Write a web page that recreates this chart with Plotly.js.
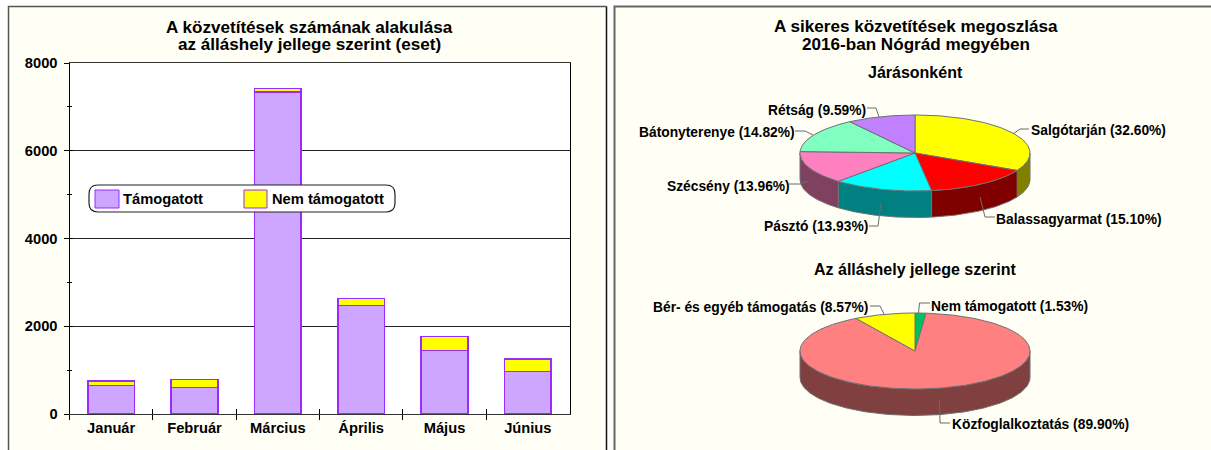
<!DOCTYPE html>
<html><head><meta charset="utf-8">
<script src="https://cdn.plot.ly/plotly-3.0.1.min.js"></script>
<style>html,body{margin:0;padding:0;background:#fff}#c{width:1211px;height:450px}</style>
</head><body><div id="c"></div>
<script>
// ---- data ----
const months = ['Január','Február','Március','Április','Május','Június'];
const supported = [654, 600, 7337, 2476, 1451, 965];
const unsupportedVals = [98, 182, 83, 152, 319, 288];
const yTicks = [0, 2000, 4000, 6000, 8000];

const districtLabels = ['Salgótarján','Balassagyarmat','Pásztó','Szécsény','Bátonyterenye','Rétság'];
const districtValues = [32.60, 15.10, 13.93, 13.96, 14.82, 9.59];
const districtColors = ['#FFFF00','#FF0000','#00FFFF','#FF80C0','#80FFC0','#C080FF'];
const districtSides  = ['#808000','#800000','#008080','#804060','#408060','#604080'];

const jobLabels = ['Nem támogatott','Közfoglalkoztatás','Bér- és egyéb támogatás'];
const jobValues = [1.53, 89.90, 8.57];
const jobColors = ['#00C060','#FF8080','#FFFF00'];
const jobSides  = ['#006030','#804040','#808000'];

// ---- layout helpers ----
const W = 1211, H = 450;
const FONT = 'Liberation Sans, Arial, sans-serif';
const px = x => x / W, py = y => 1 - y / H;
const PIE = {a: 115, b: 38, depth: 26.5};

function arc(t0, t1, y0) {
  const n = Math.max(2, Math.ceil(t1 - t0)), xs = [], ys = [];
  for (let i = 0; i <= n; i++) {
    const t = (t0 + (t1 - t0) * i / n) * Math.PI / 180;
    xs.push(Math.sin(t)); ys.push(Math.cos(t) + y0);
  }
  return {xs, ys};
}
function pieTraces(values, colors, sides, xa, ya, name) {
  const tops = [], walls = [];
  let acc = 0;
  const d = -PIE.depth / PIE.b;
  values.forEach((v, i) => {
    const t0 = acc * 3.6, t1 = (acc + v) * 3.6;
    acc += v;
    const lineStyle = {color: '#707070', width: 1};
    const c0 = Math.max(t0, 90), c1 = Math.min(t1, 270);
    if (c1 > c0) {
      const up = arc(c0, c1, 0), lo = arc(c0, c1, d);
      walls.push({type:'scatter', mode:'lines', fill:'toself', xaxis:xa, yaxis:ya,
        x: up.xs.concat(lo.xs.reverse(), [up.xs[0]]),
        y: up.ys.concat(lo.ys.reverse(), [up.ys[0]]),
        fillcolor: sides[i], line: lineStyle, hoverinfo:'skip', cliponaxis:false, showlegend:false});
    }
    const a = arc(t0, t1, 0);
    tops.push({type:'scatter', mode:'lines', fill:'toself', xaxis:xa, yaxis:ya,
      x: [0].concat(a.xs, [0]), y: [0].concat(a.ys, [0]),
      fillcolor: colors[i], line: lineStyle, name: name[i], hoverinfo:'name', cliponaxis:false, showlegend:false});
  });
  return walls.concat(tops);
}
function pieAxes(cx, cy, top, bottom) {
  const L = 616, R = 1210;
  return {
    x: {domain:[px(L), px(R)], range:[(L-cx)/PIE.a, (R-cx)/PIE.a], visible:false, fixedrange:true},
    y: {domain:[py(bottom), py(top)], range:[(cy-bottom)/PIE.b, (cy-top)/PIE.b], visible:false, fixedrange:true}
  };
}
const axA = pieAxes(915, 153, 100, 240), axB = pieAxes(915, 351, 300, 440);

const barLine = {color:'#9A2BFF', width:1.5};
const traces = [
  {type:'bar', x:months, y:supported, name:'Támogatott', marker:{color:'#CFA6FF', line:barLine}, width:0.56},
  {type:'bar', x:months, y:unsupportedVals, name:'Nem támogatott', marker:{color:'#FFFF00', line:barLine}, width:0.56},
  {type:'scatter', mode:'none', x:months, y:months.map(()=>0), xaxis:'x4', yaxis:'y4', hoverinfo:'skip', showlegend:false},
  ...pieTraces(districtValues, districtColors, districtSides, 'x2', 'y2', districtLabels),
  ...pieTraces(jobValues, jobColors, jobSides, 'x3', 'y3', jobLabels)
];

// ---- text ----
function txt(s, x, y, size, anchor) {
  const off = anchor === 'left' ? -2 : anchor === 'right' ? 2 : 0;
  return {text:s, xref:'paper', yref:'paper', x:px(x+off), y:py(y), xanchor:anchor||'center', yanchor:'middle',
    showarrow:false, font:{family:FONT, size:size, color:'#000', weight:700}};
}
const pctLabel = (l, v) => l + ' (' + v.toFixed(2) + '%)';
const LS = 13.8, TS = 17.1, SS = 16;
const annotations = [
  txt('A közvetítések számának alakulása', 309.5, 27, TS),
  txt('az álláshely jellege szerint (eset)', 309.5, 45, TS),
  txt('A sikeres közvetítések megoszlása', 915.5, 26, TS),
  txt('2016-ban Nógrád megyében', 915.5, 45, TS),
  txt('Járásonként', 915, 72, SS),
  txt('Az álláshely jellege szerint', 915, 269, SS),
  txt('Támogatott', 123, 199, 14.7, 'left'),
  txt('Nem támogatott', 271.5, 199, 14.7, 'left'),
  txt(pctLabel(districtLabels[5], districtValues[5]), 866, 110, LS, 'right'),
  txt(pctLabel(districtLabels[4], districtValues[4]), 795, 132, LS, 'right'),
  txt(pctLabel(districtLabels[0], districtValues[0]), 1031, 130, LS, 'left'),
  txt(pctLabel(districtLabels[3], districtValues[3]), 790, 186, LS, 'right'),
  txt(pctLabel(districtLabels[2], districtValues[2]), 868, 226, LS, 'right'),
  txt(pctLabel(districtLabels[1], districtValues[1]), 996, 219, LS, 'left'),
  txt(pctLabel(jobLabels[2], jobValues[2]), 868, 307, LS, 'right'),
  txt(pctLabel(jobLabels[0], jobValues[0]), 931, 306, LS, 'left'),
  txt(pctLabel(jobLabels[1], jobValues[1]), 952, 424, LS, 'left')
];

// ---- shapes ----
function rect(x0,y0,x1,y1,fill,line,layer) {
  return {type:'rect', xref:'paper', yref:'paper', x0:px(x0), x1:px(x1), y0:py(y1), y1:py(y0),
    fillcolor:fill, line:line||{width:0}, layer:layer||'above'};
}
function seg(points, color, width, layer) {
  const p = points.map((q,i)=>(i?'L':'M')+px(q[0])+','+py(q[1])).join(' ');
  return {type:'path', xref:'paper', yref:'paper', path:p, line:{color:color, width:width}, layer:layer||'above'};
}
function round(x0,y0,x1,y1,r) {
  const P=(x,y)=>px(x)+','+py(y);
  return {type:'path', xref:'paper', yref:'paper', fillcolor:'#fff', line:{color:'#222', width:1.2}, layer:'above',
    path:'M'+P(x0+r,y0)+' L'+P(x1-r,y0)+' Q'+P(x1,y0)+' '+P(x1,y0+r)+' L'+P(x1,y1-r)+' Q'+P(x1,y1)+' '+P(x1-r,y1)+
         ' L'+P(x0+r,y1)+' Q'+P(x0,y1)+' '+P(x0,y1-r)+' L'+P(x0,y0+r)+' Q'+P(x0,y0)+' '+P(x0+r,y0)+' Z'};
}
const IVORY = '#FFFFF5';
const swatchLine = {color:'#9A2BFF', width:1};
const lead = '#6a6a6a';
const shapes = [
  rect(8.5,6.5,606.5,451,IVORY,null,'below'),
  rect(614.5,6.5,1212,451,IVORY,null,'below'),
  seg([[8.5,451],[8.5,6.5],[606.5,6.5]],'#555',1.5,'below'),
  seg([[606.5,6.5],[606.5,451]],'#111',1.5,'below'),
  seg([[614.5,451],[614.5,6.5],[1212,6.5]],'#666',2,'below'),
  rect(69.5,63,569.5,414,'#fff',null,'below'),
  round(89,185,395,212,9),
  rect(95,190,119,208,'#CFA6FF',swatchLine),
  rect(244,190,267,208,'#FFFF00',swatchLine),
  seg([[867,108],[876,108],[879,117]],lead,1),
  seg([[795,131],[805,131],[813,135]],lead,1),
  seg([[1013,134],[1020,129],[1029,129]],lead,1),
  seg([[789,184],[800,184],[809,181]],lead,1),
  seg([[869,226],[878,226],[881,203]],lead,1),
  seg([[980,197],[985,217],[995,217]],lead,1),
  seg([[870,306],[880,306],[884,314]],lead,1),
  seg([[930,303],[919.5,303],[918.5,313]],lead,1),
  seg([[939.5,401],[940,423],[950,423]],lead,1)
];

const barX = [px(69.5), px(569.5)], barY = [py(414), py(63)];
const layout = {
  width:W, height:H, margin:{l:0,r:0,t:0,b:0,pad:0}, paper_bgcolor:'#fff', plot_bgcolor:'rgba(0,0,0,0)',
  barmode:'stack', showlegend:false, hovermode:'closest',
  font:{family:FONT, color:'#000'},
  xaxis:{domain:barX, type:'category', range:[-0.5,5.5], tickson:'boundaries', ticks:'outside', ticklen:5, tickcolor:'#000',
    showline:true, linecolor:'#333', linewidth:1, mirror:true, showgrid:false, fixedrange:true,
    tickfont:{family:FONT, size:14.7, color:'#000', weight:700}},
  yaxis:{domain:barY, range:[0,8000], tickmode:'array', tickvals:yTicks, ticks:'outside', ticklen:5, tickcolor:'#000',
    minor:{dtick:1000, ticks:'outside', ticklen:2, tickcolor:'#000', showgrid:false},
    showline:true, linecolor:'#000', linewidth:1, mirror:true, showgrid:true, gridcolor:'#222', gridwidth:1, zeroline:false, fixedrange:true,
    ticklabelstandoff:3, tickfont:{family:FONT, size:14.7, color:'#000', weight:700}},
  xaxis4:{overlaying:'x', anchor:'y4', type:'category', range:[-0.5,5.5], tickson:'boundaries', ticks:'inside', ticklen:5, tickcolor:'#000',
    showticklabels:false, showgrid:false, showline:false, fixedrange:true, categoryorder:'array', categoryarray:months},
  yaxis4:{overlaying:'y', anchor:'x4', range:[0,8000], tickmode:'array', tickvals:yTicks, ticks:'inside', ticklen:3, tickcolor:'#000',
    minor:{dtick:1000, ticks:'inside', ticklen:2, tickcolor:'#000', showgrid:false},
    showticklabels:false, showgrid:false, showline:false, zeroline:false, fixedrange:true},
  xaxis2:axA.x, yaxis2:axA.y, xaxis3:axB.x, yaxis3:axB.y,
  annotations, shapes
};
Plotly.newPlot('c', traces, layout, {displayModeBar:false, responsive:false});
</script></body></html>
